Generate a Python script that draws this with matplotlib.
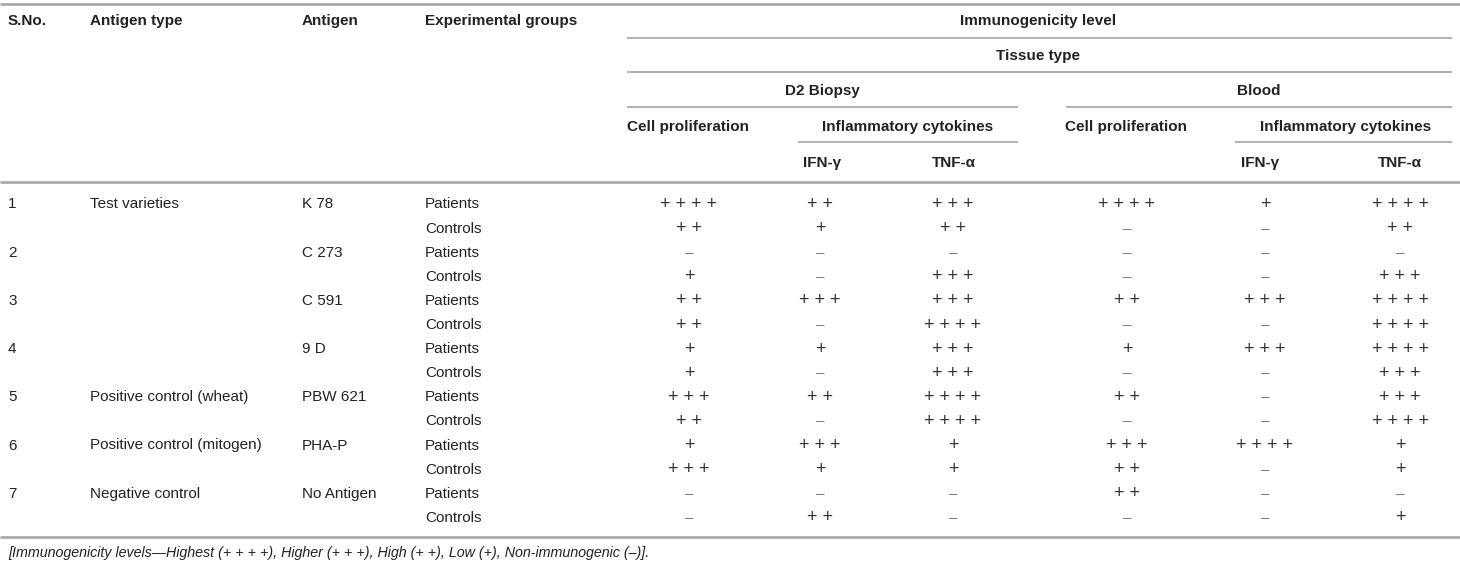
import matplotlib.pyplot as plt

plt.rcParams['font.family'] = ['Liberation Sans', 'DejaVu Sans']

# table content
sno = ["1", "", "2", "", "3", "", "4", "", "5", "", "6", "", "7", ""]
antigen_type = ["Test varieties", "", "", "", "", "", "", "",
                "Positive control (wheat)", "", "Positive control (mitogen)", "",
                "Negative control", ""]
antigen = ["K 78", "", "C 273", "", "C 591", "", "9 D", "",
           "PBW 621", "", "PHA-P", "", "No Antigen", ""]
groups = ["Patients", "Controls"] * 7

# immunogenicity levels (number of +, 0 = non-immunogenic)
d2_prolif = [4, 2, 0, 1, 2, 2, 1, 1, 3, 2, 1, 3, 0, 0]
d2_ifn = [2, 1, 0, 0, 3, 0, 1, 0, 2, 0, 3, 1, 0, 2]
d2_tnf = [3, 2, 0, 3, 3, 4, 3, 3, 4, 4, 1, 1, 0, 0]
bl_prolif = [4, 0, 0, 0, 2, 0, 1, 0, 2, 0, 3, 2, 2, 0]
bl_ifn = [1, 0, 0, 0, 3, 0, 3, 0, 0, 0, 4, 0, 0, 0]
bl_tnf = [4, 2, 0, 3, 4, 4, 4, 3, 3, 4, 1, 1, 0, 1]

footnote = ("[Immunogenicity levels\u2014Highest (+ + + +), Higher (+ + +), "
            "High (+ +), Low (+), Non-immunogenic (\u2013)].")

W, H = 1460, 565
fig = plt.figure(figsize=(W / 100, H / 100), dpi=100)
ax = fig.add_axes([0, 0, 1, 1])
ax.set_xlim(0, W)
ax.set_ylim(H, 0)
ax.axis("off")

txt = "#222222"
rule = "#aaaaaa"
fs = 11


def hline(x0, x1, y, lw=1.3, c=rule):
    ax.plot([x0, x1], [y, y], color=c, lw=lw, solid_capstyle="butt")


def level(n):
    return "\u2013" if n == 0 else " ".join(["+"] * n)


# rules
hline(0, W, 4, lw=2)
hline(627, 1452, 38)
hline(627, 1452, 72)
hline(627, 1018, 107)
hline(1066, 1452, 107)
hline(798, 1018, 142)
hline(1235, 1452, 142)
hline(0, W, 182, lw=2)
hline(0, W, 537, lw=2)

# header
hb = dict(fontsize=fs, fontweight="bold", color=txt, va="center")
ax.text(8, 21, "S.No.", ha="left", **hb)
ax.text(90, 21, "Antigen type", ha="left", **hb)
ax.text(302, 21, "Antigen", ha="left", **hb)
ax.text(425, 21, "Experimental groups", ha="left", **hb)
ax.text(1038, 21, "Immunogenicity level", ha="center", **hb)
ax.text(1038, 56, "Tissue type", ha="center", **hb)
ax.text(822, 91, "D2 Biopsy", ha="center", **hb)
ax.text(1259, 91, "Blood", ha="center", **hb)
ax.text(627, 127, "Cell proliferation", ha="left", **hb)
ax.text(908, 127, "Inflammatory cytokines", ha="center", **hb)
ax.text(1065, 127, "Cell proliferation", ha="left", **hb)
ax.text(1346, 127, "Inflammatory cytokines", ha="center", **hb)
ax.text(822, 163, "IFN-\u03b3", ha="center", **hb)
ax.text(954, 163, "TNF-\u03b1", ha="center", **hb)
ax.text(1260, 163, "IFN-\u03b3", ha="center", **hb)
ax.text(1400, 163, "TNF-\u03b1", ha="center", **hb)

# body
body = dict(fontsize=fs, color=txt, va="center")
cols = [(689, d2_prolif), (820, d2_ifn), (953, d2_tnf),
        (1127, bl_prolif), (1265, bl_ifn), (1400, bl_tnf)]
for i in range(len(groups)):
    y = 204.5 + i * 24.1
    ax.text(8, y, sno[i], ha="left", **body)
    ax.text(90, y, antigen_type[i], ha="left", **body)
    ax.text(302, y, antigen[i], ha="left", **body)
    ax.text(425, y, groups[i], ha="left", **body)
    for x, vals in cols:
        n = vals[i]
        ax.text(x, y, level(n), ha="center", va="center",
                fontsize=13 if n else fs, color="#333333" if n else "#777777")

ax.text(8, 553, footnote, ha="left", va="center", fontsize=10.3,
        style="italic", color=txt)

fig.savefig("out.png", dpi=100)
